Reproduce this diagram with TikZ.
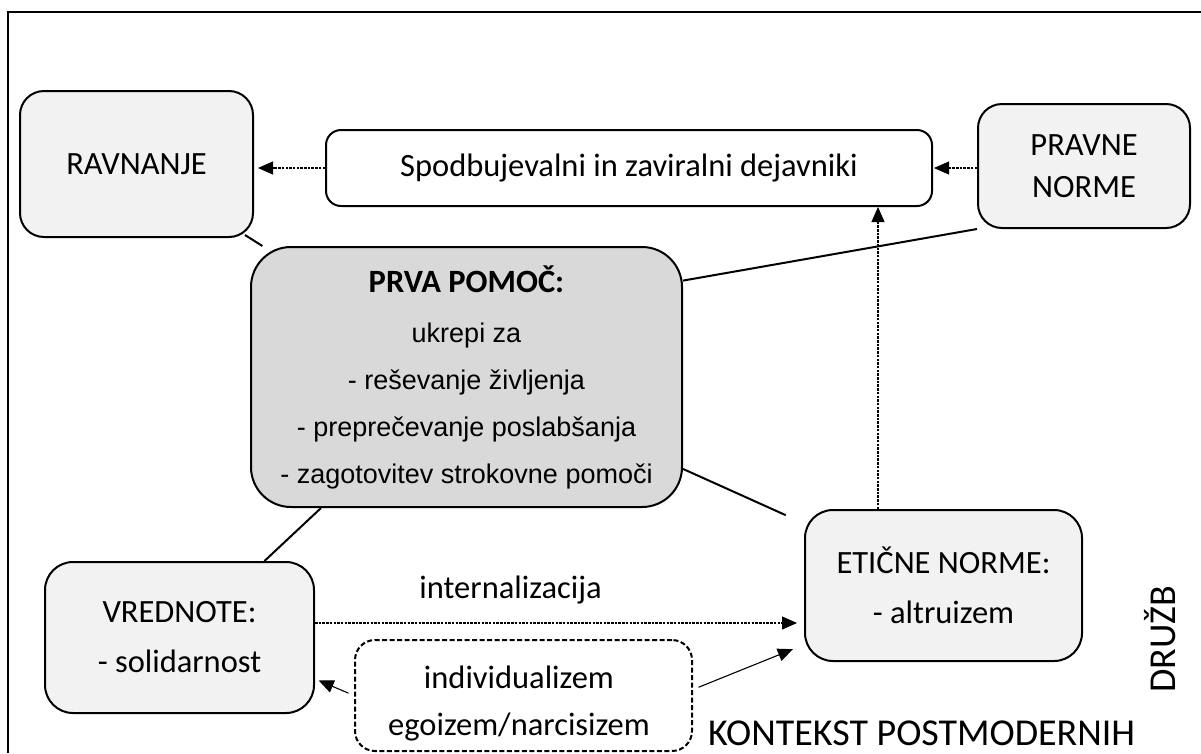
\documentclass[tikz,border=0pt]{standalone}
\usepackage{fontspec}
\setmainfont{Carlito}
\newfontfamily\arialfont{Liberation Sans}
\usetikzlibrary{arrows.meta,calc}
\definecolor{boxgray}{HTML}{F2F2F2}
\definecolor{maingray}{HTML}{D9D9D9}

\begin{document}
\begin{tikzpicture}[x=1pt,y=-1pt,
  box/.style={draw,line width=2pt,inner sep=0pt,align=center,
    font=\fontsize{32.5}{50}\selectfont},
  light/.style={box,fill=boxgray},
  link/.style={line width=2pt},
  tip/.style={-{Triangle[length=15pt,width=13pt]}},
  dotarrow/.style={tip,line width=1.1pt,dash pattern=on 2.5pt off 1.2pt},
  thinarrow/.style={tip,line width=1.1pt},
  plain/.style={inner sep=0pt,font=\fontsize{32.5}{47}\selectfont},
]
\useasboundingbox (0,0) rectangle (1201,753);

% outer frame (open at right and bottom)
\draw[line width=1.3pt] (8,753) -- (8,12) -- (1201,12);

% boxes
\node[light,rounded corners=24pt,minimum width=233pt,minimum height=146pt]
  (rav) at (136.5,164) {RAVNANJE};
\node[box,fill=white,rounded corners=15pt,minimum width=606pt,minimum height=76pt]
  (spod) at (629,168) {Spodbujevalni in zaviralni dejavniki};
\node[light,rounded corners=24pt,minimum width=212pt,minimum height=124pt,
  font=\fontsize{32.5}{42}\selectfont]
  (pravne) at (1084,166) {PRAVNE\\NORME};
\node[box,fill=maingray,rounded corners=40pt,minimum width=431pt,minimum height=260pt,
  font=\arialfont\fontsize{27}{47}\selectfont]
  (prva) at (466.5,377)
  {{\rmfamily\bfseries\fontsize{32.5}{47}\selectfont PRVA POMOČ:}\\[3pt]
   ukrepi za\\
   - reševanje življenja\\
   - preprečevanje poslabšanja\\
   - zagotovitev strokovne pomoči};
\node[light,rounded corners=28pt,minimum width=269pt,minimum height=151pt]
  (vred) at (179.5,637.5) {VREDNOTE:\\- solidarnost};
\node[light,rounded corners=28pt,minimum width=277pt,minimum height=151pt]
  (etic) at (943.5,585.5) {ETIČNE NORME:\\- altruizem};
\node[draw,fill=white,line width=2pt,dash pattern=on 5pt off 2.5pt,
  rounded corners=20pt,minimum width=337pt,minimum height=111pt,inner sep=0pt]
  (ind) at (523.5,695.5) {};
\node[plain,align=center,anchor=north] (indtext) at (519,666)
  {individualizem\\egoizem/narcisizem};

% solid links around the central box
\draw[link] ([shift={(-9pt,3pt)}]rav.south east) -- (prva);
\draw[link] (prva.24.6) -- (pravne.south west);
\draw[link,shorten >=20pt] (prva.-23.5) -- (etic.156.4);
\draw[link] (prva.222.3) -- (vred.42.1);

% dotted influence arrows
\draw[dotarrow,shorten >=4pt] (spod.west) -- (spod.west -| rav.east);
\draw[dotarrow,shorten >=1pt] (spod.east -| pravne.west) -- (spod.east);
\draw[dotarrow] ([xshift=-65.5pt]etic.north) -- ([xshift=-65.5pt]etic.north |- spod.south);
\draw[dotarrow,shorten >=7pt] ([yshift=14.5pt]vred.east) -- ([yshift=14.5pt]vred.east -| etic.west)
  node (intlab) [plain,pos=0.4,anchor=base,yshift=25pt] {internalizacija};

% arrows out of the dashed box
\draw[thinarrow,shorten <=6pt,shorten >=4pt] (ind.west) -- (vred.-17.9);
\draw[thinarrow,shorten <=6pt,shorten >=12pt] ([yshift=6pt]ind.east) -- (etic.203.9);

% context labels
\node[inner sep=0pt,anchor=base west,font=\fontsize{38}{44}\selectfont]
  (kontekst) at (708,745) {KONTEKST POSTMODERNIH};
\node[inner sep=0pt,anchor=base west,rotate=90,font=\fontsize{38}{44}\selectfont]
  (druzb) at (1175,693) {DRUŽB};
\end{tikzpicture}
\end{document}
